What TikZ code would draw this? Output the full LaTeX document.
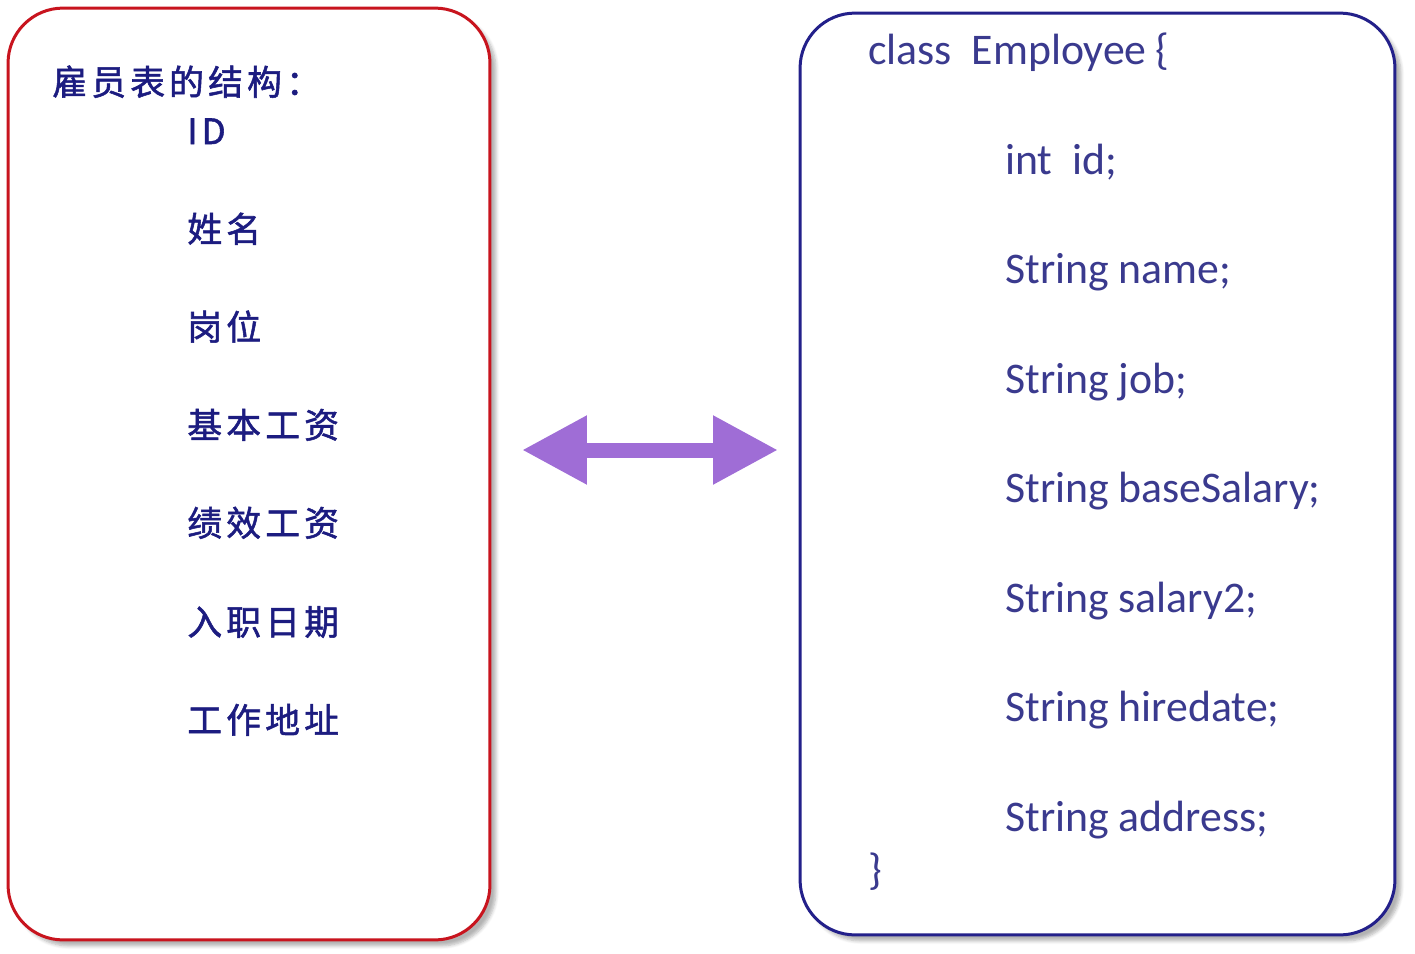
\documentclass[tikz,border=0pt]{standalone}
\usepackage{fontspec}
\setmainfont{Carlito}
\newfontfamily\cjk[FakeBold=1.5,LetterSpace=12]{Noto Sans CJK SC}
\usetikzlibrary{arrows.meta,positioning,shadows.blur}
\definecolor{tblred}{HTML}{C8141E}
\definecolor{clsnavy}{HTML}{23208A}
\definecolor{fldnavy}{HTML}{1C1C80}
\definecolor{codeblue}{HTML}{3A3A8E}
\definecolor{linkviolet}{HTML}{9F6DD6}

\begin{document}
\begin{tikzpicture}[
  x=0.02cm, y=-0.02cm,
  panel/.style={rounded corners=1.1cm, line width=0.06cm, fill=white,
                blur shadow={shadow xshift=0.12cm, shadow yshift=-0.12cm,
                             shadow blur steps=6, shadow opacity=30}},
  tbl/.style={panel, draw=tblred, minimum width=9.64cm, minimum height=18.64cm},
  cls/.style={panel, draw=clsnavy, minimum width=11.9cm, minimum height=18.44cm},
  fld/.style={anchor=base west, inner sep=0pt, text=fldnavy,
              font=\cjk\fontsize{19.8}{24}\selectfont},
  code/.style={anchor=base west, inner sep=0pt, text=codeblue,
               font=\fontsize{24.9}{30}\selectfont},
  link/.style={linkviolet, line width=0.3cm,
               {Triangle[length=1.3cm,width=1.3cm]}-{Triangle[length=1.3cm,width=1.3cm]}},
]
\useasboundingbox (0,0) rectangle (1415,953);

% ===== table side =====
\node[tbl] (table) at (249,474) {};
\node[fld] (thdr) at (52,95) {雇员表的结构：};
\node[fld] (f1) at (187,144) {ID};
\node[fld] (f2) at (187,242) {姓名};
\node[fld] (f3) at (187,340) {岗位};
\node[fld] (f4) at (187,438) {基本工资};
\node[fld] (f5) at (187,536) {绩效工资};
\node[fld] (f6) at (187,635) {入职日期};
\node[fld] (f7) at (187,733) {工作地址};

% ===== class side =====
\node[cls] (class) at (1097.5,474) {};
\node[code] (chdr) at (868,65) {class\hspace{0.45em}Employee\hspace{0.2em}\{};
\node[code] (c1) at (1005,174) {int\hspace{0.45em}id;};
\node[code] (c2) at (1005,283) {String name;};
\node[code] (c3) at (1005,393) {String job;};
\node[code] (c4) at (1005,502) {String baseSalary;};
\node[code] (c5) at (1005,612) {String salary2;};
\node[code] (c6) at (1005,721) {String hiredate;};
\node[code] (c7) at (1005,831) {String address;};
\node[code] (cend) at (868,884) {\}};

% ===== mapping =====
\coordinate (arrL) at (522,450);
\coordinate (arrR) at (778,450);
\draw[link] (arrL) -- (arrR);

\end{tikzpicture}
\end{document}
